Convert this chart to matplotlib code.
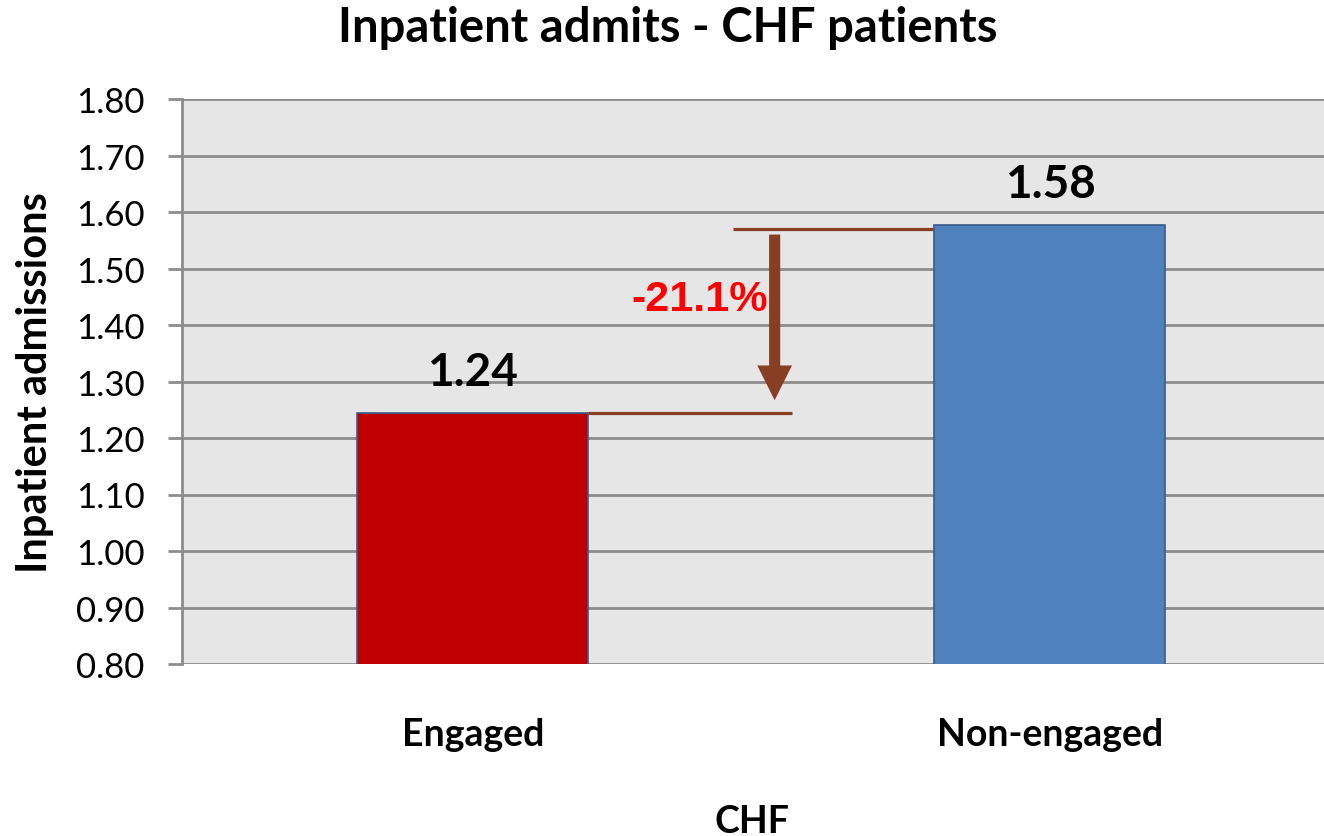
import matplotlib
matplotlib.use("Agg")
import matplotlib.pyplot as plt
from matplotlib.patches import FancyArrowPatch

# data
categories = ["Engaged", "Non-engaged"]
admissions = [1.244, 1.577]
bar_colors = ["#C00000", "#4F81BD"]
value_labels = ["1.24", "1.58"]
y_ticks = [0.80, 0.90, 1.00, 1.10, 1.20, 1.30, 1.40, 1.50, 1.60, 1.70, 1.80]

pct_change = (admissions[0] - admissions[1]) / admissions[1] * 100

plt.rcParams["font.family"] = ["Lato", "DejaVu Sans"]

fig = plt.figure(figsize=(13.24, 8.37), dpi=100)
ax = fig.add_axes([182 / 1324, 1 - 665 / 837, 1 - 182 / 1324, (665 - 100) / 837])
ax.set_facecolor("#E6E6E6")

x = list(range(len(categories)))
ax.bar(x, admissions, width=0.40, color=bar_colors, edgecolor="#385D8A",
       linewidth=1.2, zorder=3)

ax.set_ylim(0.80, 1.80)
ax.set_xlim(-0.504, 1.475)
ax.set_yticks(y_ticks)
ax.set_yticklabels(["%.2f" % t for t in y_ticks], fontsize=25)
ax.set_xticks(x)
ax.set_xticklabels(categories, fontsize=27, fontweight="bold")
ax.tick_params(axis="y", length=10, width=2, color="#8C8C8C", pad=17)
ax.tick_params(axis="x", length=0, pad=38)
ax.yaxis.grid(True, color="#8C8C8C", linewidth=2, zorder=0)
ax.set_axisbelow(True)
for side in ["top", "right", "bottom"]:
    ax.spines[side].set_visible(False)
ax.spines["left"].set_color("#8C8C8C")
ax.spines["left"].set_linewidth(2)

ax.set_ylabel("Inpatient admissions", fontsize=30, fontweight="bold")
ax.yaxis.set_label_coords(-0.112, 0.5)
fig.text(752 / 1324, 15 / 837, "CHF", ha="center", va="center",
         fontsize=27, fontweight="bold")
fig.text(668 / 1324, 1 - 28 / 837, "Inpatient admits - CHF patients",
         ha="center", va="center", fontsize=34, fontweight="bold")

# value labels
for xi, v, lab in zip(x, admissions, value_labels):
    ax.text(xi, v + 0.072, lab, ha="center", va="center", fontsize=33,
            fontweight="bold", zorder=4)

# difference annotation
brown = "#873E23"
ax.hlines(admissions[0], 0.2, 0.553, color=brown, linewidth=2.3, zorder=4)
ax.hlines(admissions[1] - 0.007, 0.45, 0.797, color=brown, linewidth=2.3, zorder=4)
arrow = FancyArrowPatch((0.523, admissions[1] - 0.012), (0.523, admissions[0] + 0.018),
                        arrowstyle="simple,head_length=25,head_width=25,tail_width=8",
                        mutation_scale=1, color=brown, linewidth=0, zorder=4)
ax.add_patch(arrow)
ax.text(0.393, 1.446, "%.1f%%" % pct_change, ha="center", va="center",
        fontsize=31, fontweight="bold", color="red",
        family="Liberation Sans", zorder=4)

plt.savefig("out.png", dpi=100)
plt.close()
